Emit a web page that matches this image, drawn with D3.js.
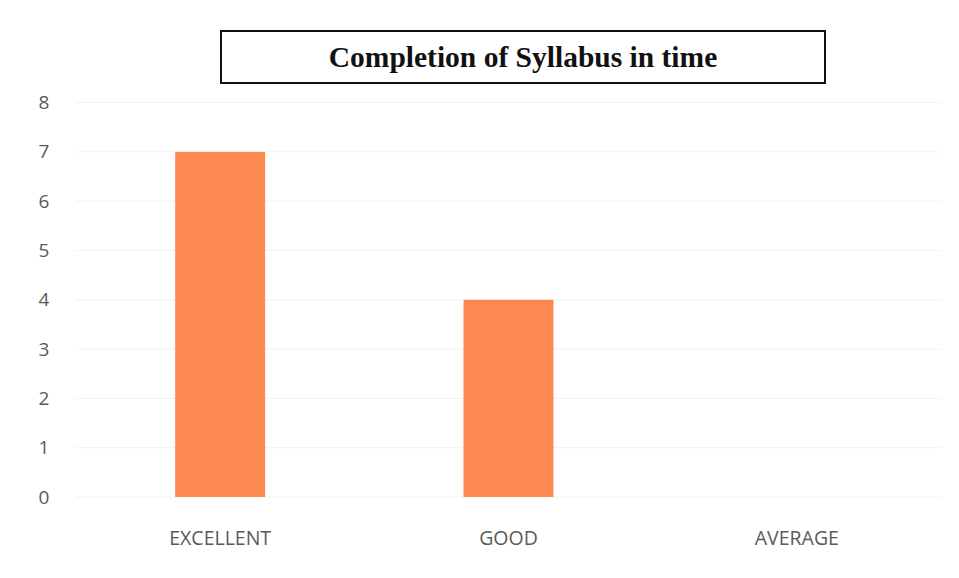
<!DOCTYPE html>
<html>
<head>
<meta charset="utf-8">
<script src="https://cdn.jsdelivr.net/npm/d3@7"></script>
<style>
  body { margin: 0; background: #fff; }
</style>
</head>
<body>
<script>
var WIDTH = 959;
var HEIGHT = 578;

var categories = ["EXCELLENT", "GOOD", "AVERAGE"];
var values = [7, 4, 0];
var yTicks = [0, 1, 2, 3, 4, 5, 6, 7, 8];
var chartTitle = "Completion of Syllabus in time";

var svg = d3.select("body")
    .append("svg")
    .attr("width", WIDTH)
    .attr("height", HEIGHT);

var x = d3.scaleBand()
    .domain(categories)
    .range([76, 941])
    .paddingInner(0.688)
    .paddingOuter(0.344);

var y = d3.scaleLinear()
    .domain([0, 8])
    .range([497, 102.6]);

// faint gridlines, the scan barely shows them
svg.append("g")
    .selectAll("line")
    .data(yTicks)
    .join("line")
    .attr("x1", 76)
    .attr("x2", 941)
    .attr("y1", d => y(d))
    .attr("y2", d => y(d))
    .attr("stroke", "#f2f2f2")
    .attr("stroke-width", 1);

// y axis labels
var yAxis = d3.axisLeft(y).tickValues(yTicks).tickSize(0).tickPadding(0);
var yg = svg.append("g")
    .attr("transform", "translate(44,0)")
    .call(yAxis);
yg.select(".domain").remove();
yg.selectAll("text")
    .attr("font-family", "Open Sans, sans-serif")
    .attr("font-size", "19px")
    .attr("fill", "#5a5a5a")
    .attr("text-anchor", "middle")
    .attr("x", 0);

// bars
svg.append("g")
    .selectAll("rect")
    .data(values)
    .join("rect")
    .attr("x", (d, i) => x(categories[i]))
    .attr("y", d => y(d))
    .attr("width", x.bandwidth())
    .attr("height", d => y(0) - y(d))
    .attr("fill", "#fd8a50");

// category labels
var xAxis = d3.axisBottom(x).tickSize(0).tickPadding(0);
var xg = svg.append("g")
    .attr("transform", "translate(0,531)")
    .call(xAxis);
xg.select(".domain").remove();
xg.selectAll("text")
    .attr("font-family", "Open Sans, sans-serif")
    .attr("font-size", "19.5px")
    .attr("fill", "#5a5a5a");

// title box
svg.append("rect")
    .attr("x", 221)
    .attr("y", 31)
    .attr("width", 604)
    .attr("height", 52)
    .attr("fill", "white")
    .attr("stroke", "#111")
    .attr("stroke-width", 2);

svg.append("text")
    .attr("x", 523)
    .attr("y", 67)
    .attr("text-anchor", "middle")
    .attr("font-family", "Liberation Serif, serif")
    .attr("font-weight", "bold")
    .attr("font-size", "29.5px")
    .attr("fill", "#111")
    .text(chartTitle);
</script>
</body>
</html>
